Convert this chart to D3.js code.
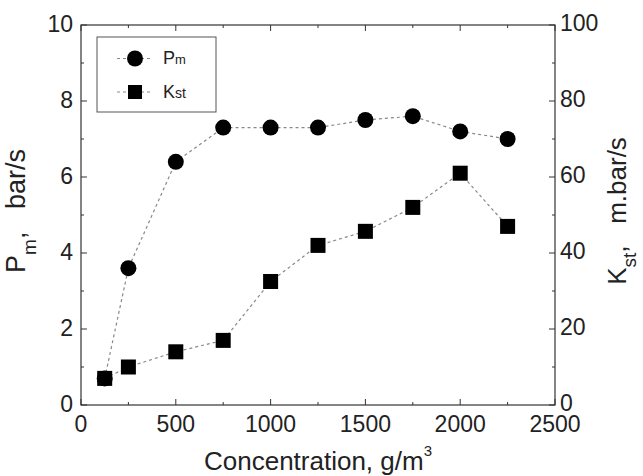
<!DOCTYPE html>
<html>
<head>
<meta charset="utf-8">
<script src="https://cdn.jsdelivr.net/npm/d3@7"></script>
<style>
  body { margin: 0; background: #fff; }
  text { font-family: "Liberation Sans", Arial, sans-serif; fill: #222; }
</style>
</head>
<body>
<svg width="643" height="476"></svg>
<script>
// data
var concentration = [125, 250, 500, 750, 1000, 1250, 1500, 1750, 2000, 2250];
var pmValues = [0.7, 3.6, 6.4, 7.3, 7.3, 7.3, 7.5, 7.6, 7.2, 7.0];
var kstValues = [7, 10, 14, 17, 32.5, 42, 45.7, 52, 61, 47];
var xTicks = [0, 500, 1000, 1500, 2000, 2500];
var leftTicks = [0, 2, 4, 6, 8, 10];
var rightTicks = [0, 20, 40, 60, 80, 100];

var svg = d3.select("svg"),
    margin = {top: 25, right: 88, bottom: 71, left: 81},
    width = +svg.attr("width") - margin.left - margin.right,
    height = +svg.attr("height") - margin.top - margin.bottom;

var x = d3.scaleLinear().domain([0, 2500]).range([0, width]),
    yL = d3.scaleLinear().domain([0, 10]).range([height, 0]),
    yR = d3.scaleLinear().domain([0, 100]).range([height, 0]);

var g = svg.append("g")
    .attr("transform", "translate(" + margin.left + "," + margin.top + ")");

// frame
g.append("rect")
    .attr("width", width).attr("height", height)
    .attr("fill", "none").attr("stroke", "#333").attr("stroke-width", 1.2);

function tickLines(sel, scale, vals, len, orient) {
    vals.forEach(function(v) {
        var p = scale(v);
        if (orient === "bottom") sel.append("line").attr("x1", p).attr("x2", p).attr("y1", height).attr("y2", height - len);
        if (orient === "top") sel.append("line").attr("x1", p).attr("x2", p).attr("y1", 0).attr("y2", len);
        if (orient === "left") sel.append("line").attr("y1", p).attr("y2", p).attr("x1", 0).attr("x2", len);
        if (orient === "right") sel.append("line").attr("y1", p).attr("y2", p).attr("x1", width).attr("x2", width - len);
    });
}

var ticks = g.append("g").attr("stroke", "#333").attr("stroke-width", 1);
var xMinor = d3.range(250, 2500, 500);
var lMinor = d3.range(1, 10, 2);
var rMinor = d3.range(10, 100, 20);
tickLines(ticks, x, xTicks, 6, "bottom");
tickLines(ticks, x, xMinor, 3, "bottom");
tickLines(ticks, x, xTicks, 6, "top");
tickLines(ticks, x, xMinor, 3, "top");
tickLines(ticks, yL, leftTicks, 6, "left");
tickLines(ticks, yL, lMinor, 3, "left");
tickLines(ticks, yR, rightTicks, 6, "right");
tickLines(ticks, yR, rMinor, 3, "right");

// tick labels
g.selectAll(".xl").data(xTicks).enter().append("text")
    .attr("x", function(d) { return x(d); })
    .attr("y", height + 27)
    .attr("text-anchor", "middle")
    .style("font-size", "23px")
    .text(function(d) { return d; });

g.selectAll(".yl").data(leftTicks).enter().append("text")
    .attr("x", -8)
    .attr("y", function(d) { return yL(d) + 7; })
    .attr("text-anchor", "end")
    .style("font-size", "23px")
    .text(function(d) { return d; });

g.selectAll(".yr").data(rightTicks).enter().append("text")
    .attr("x", width + 5)
    .attr("y", function(d) { return yR(d) + 6; })
    .attr("text-anchor", "start")
    .style("font-size", "23px")
    .text(function(d) { return d; });

// axis titles
var xt = g.append("text")
    .attr("x", width / 2)
    .attr("y", height + 65)
    .attr("text-anchor", "middle")
    .style("font-size", "26px");
xt.append("tspan").text("Concentration, g/m");
xt.append("tspan").attr("dy", -14).style("font-size", "15px").text("3");

var lt = g.append("text")
    .attr("transform", "translate(-56," + (height / 2 - 4) + ") rotate(-90)")
    .attr("text-anchor", "middle")
    .style("font-size", "27px");
lt.append("tspan").text("P");
lt.append("tspan").attr("dy", 11).style("font-size", "19px").text("m");
lt.append("tspan").attr("dy", -11).attr("xml:space", "preserve").text(",   bar/s");

var rt = g.append("text")
    .attr("transform", "translate(" + (width + 71) + "," + (height / 2 - 4) + ") rotate(-90)")
    .attr("text-anchor", "middle")
    .style("font-size", "26px");
rt.append("tspan").text("K");
rt.append("tspan").attr("dy", 10).style("font-size", "19px").text("st");
rt.append("tspan").attr("dy", -10).attr("xml:space", "preserve").text(",   m.bar/s");

// lines
var linePm = d3.line()
    .x(function(d, i) { return x(concentration[i]); })
    .y(function(d) { return yL(d); });
var lineKst = d3.line()
    .x(function(d, i) { return x(concentration[i]); })
    .y(function(d) { return yR(d); });

g.append("path").datum(pmValues).attr("d", linePm)
    .attr("fill", "none").attr("stroke", "#888").attr("stroke-width", 1.2).attr("stroke-dasharray", "3,3");
g.append("path").datum(kstValues).attr("d", lineKst)
    .attr("fill", "none").attr("stroke", "#888").attr("stroke-width", 1.2).attr("stroke-dasharray", "3,3");

// markers
g.selectAll(".sq").data(kstValues).enter().append("rect")
    .attr("x", function(d, i) { return x(concentration[i]) - 7.5; })
    .attr("y", function(d) { return yR(d) - 7.5; })
    .attr("width", 15).attr("height", 15)
    .attr("fill", "#000");

g.selectAll(".ci").data(pmValues).enter().append("circle")
    .attr("cx", function(d, i) { return x(concentration[i]); })
    .attr("cy", function(d) { return yL(d); })
    .attr("r", 8)
    .attr("fill", "#000");

// legend
var lg = g.append("g").attr("transform", "translate(16,12)");
lg.append("rect").attr("width", 119).attr("height", 75)
    .attr("fill", "#fff").attr("stroke", "#555").attr("stroke-width", 1);
lg.append("line").attr("x1", 20).attr("x2", 56).attr("y1", 21.5).attr("y2", 21.5)
    .attr("stroke", "#888").attr("stroke-dasharray", "3,3");
lg.append("circle").attr("cx", 38).attr("cy", 21.5).attr("r", 8).attr("fill", "#000");
lg.append("line").attr("x1", 20).attr("x2", 56).attr("y1", 55).attr("y2", 55)
    .attr("stroke", "#888").attr("stroke-dasharray", "3,3");
lg.append("rect").attr("x", 31).attr("y", 48).attr("width", 14).attr("height", 14).attr("fill", "#000");

var l1 = lg.append("text").attr("x", 66).attr("y", 27).style("font-size", "18px");
l1.append("tspan").text("P");
l1.append("tspan").style("font-size", "13px").text("m");
var l2 = lg.append("text").attr("x", 66).attr("y", 61).style("font-size", "18px");
l2.append("tspan").text("K");
l2.append("tspan").style("font-size", "14px").text("st");
</script>
</body>
</html>
